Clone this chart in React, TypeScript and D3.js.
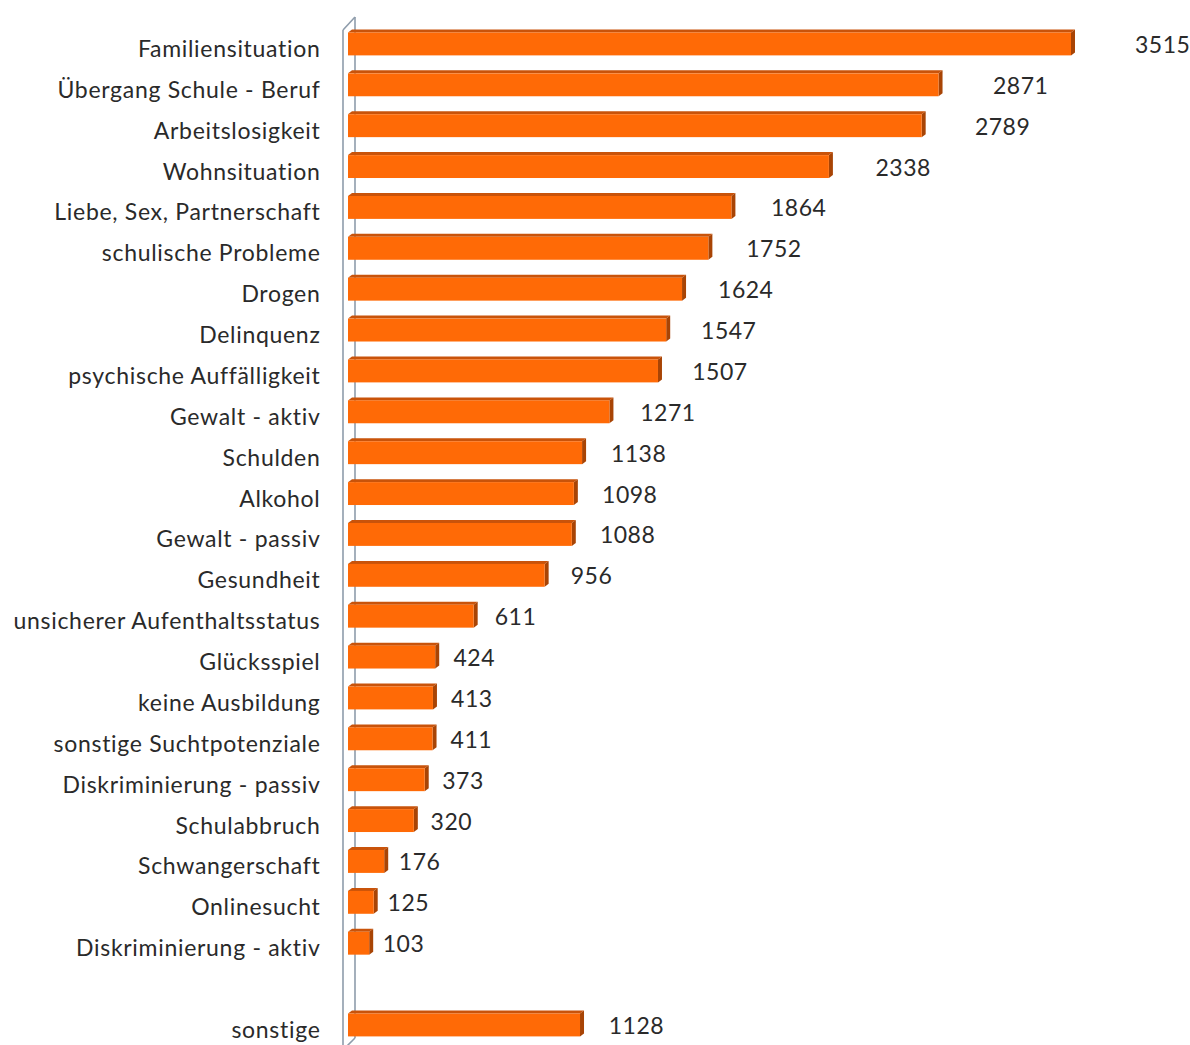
import React from "react";
import * as d3 from "d3";

const categories = [
  "Familiensituation",
  "Übergang Schule - Beruf",
  "Arbeitslosigkeit",
  "Wohnsituation",
  "Liebe, Sex, Partnerschaft",
  "schulische Probleme",
  "Drogen",
  "Delinquenz",
  "psychische Auffälligkeit",
  "Gewalt - aktiv",
  "Schulden",
  "Alkohol",
  "Gewalt - passiv",
  "Gesundheit",
  "unsicherer Aufenthaltsstatus",
  "Glücksspiel",
  "keine Ausbildung",
  "sonstige Suchtpotenziale",
  "Diskriminierung - passiv",
  "Schulabbruch",
  "Schwangerschaft",
  "Onlinesucht",
  "Diskriminierung - aktiv",
  "sonstige",
];
const values = [
  3515, 2871, 2789, 2338, 1864, 1752, 1624, 1547, 1507, 1271, 1138, 1098,
  1088, 956, 611, 424, 413, 411, 373, 320, 176, 125, 103, 1128,
];
const GAP_KEY = "__gap__";
const slotOrder = [...categories.slice(0, 23), GAP_KEY, ...categories.slice(23)];

const W = 1190;
const H = 1045;
const FONT = "Lato, 'Noto Sans', sans-serif";

export default function App() {
  const y = d3
    .scaleBand<string>()
    .domain(slotOrder)
    .range([23.5, 1045.4])
    .paddingInner(0.44)
    .paddingOuter(0.22);
  const x = d3.scaleLinear().domain([0, 3515]).range([348, 1071]);
  const xLabel = d3.scaleLinear().domain([0, 3515]).range([360, 1135]);
  const bw = y.bandwidth();
  const dx = 4;
  const dy = 3;

  return (
    <svg
      width={W}
      height={H}
      style={{ position: "absolute", left: 0, top: 0, background: "#fff" }}
    >
      {/* wall */}
      <g stroke="#8e9cab" strokeWidth={1.6} fill="none">
        <line x1={343} y1={30} x2={343} y2={H + 5} />
        <line x1={355} y1={17} x2={355} y2={1038} />
        <line x1={343} y1={30} x2={355} y2={17} />
        <line x1={343} y1={1050} x2={355} y2={1038} />
      </g>
      {categories.map((c, i) => {
        const v = values[i];
        const y0 = y(c)!;
        const x0 = x(0);
        const x1 = x(v);
        const cy = y0 + bw / 2;
        return (
          <g key={c}>
            <polygon
              points={`${x0},${y0} ${x0 + dx},${y0 - dy} ${x1 + dx},${y0 - dy} ${x1},${y0}`}
              fill="#c9530a"
            />
            <polygon
              points={`${x1},${y0} ${x1 + dx},${y0 - dy} ${x1 + dx},${y0 + bw - dy} ${x1},${y0 + bw}`}
              fill="#a84405"
            />
            <rect x={x0} y={y0} width={x1 - x0} height={bw} fill="#ff6a06" />
            <text
              x={320.5}
              y={cy + 4}
              textAnchor="end"
              dominantBaseline="central"
              fontFamily={FONT}
              fontSize={23}
              letterSpacing={0.7}
              fill="#2a2a2a"
            >
              {c}
            </text>
            <text
              x={xLabel(v)}
              y={cy}
              dominantBaseline="central"
              fontFamily={FONT}
              fontSize={23}
              letterSpacing={0.5}
              fill="#2a2a2a"
            >
              {v}
            </text>
          </g>
        );
      })}
    </svg>
  );
}
